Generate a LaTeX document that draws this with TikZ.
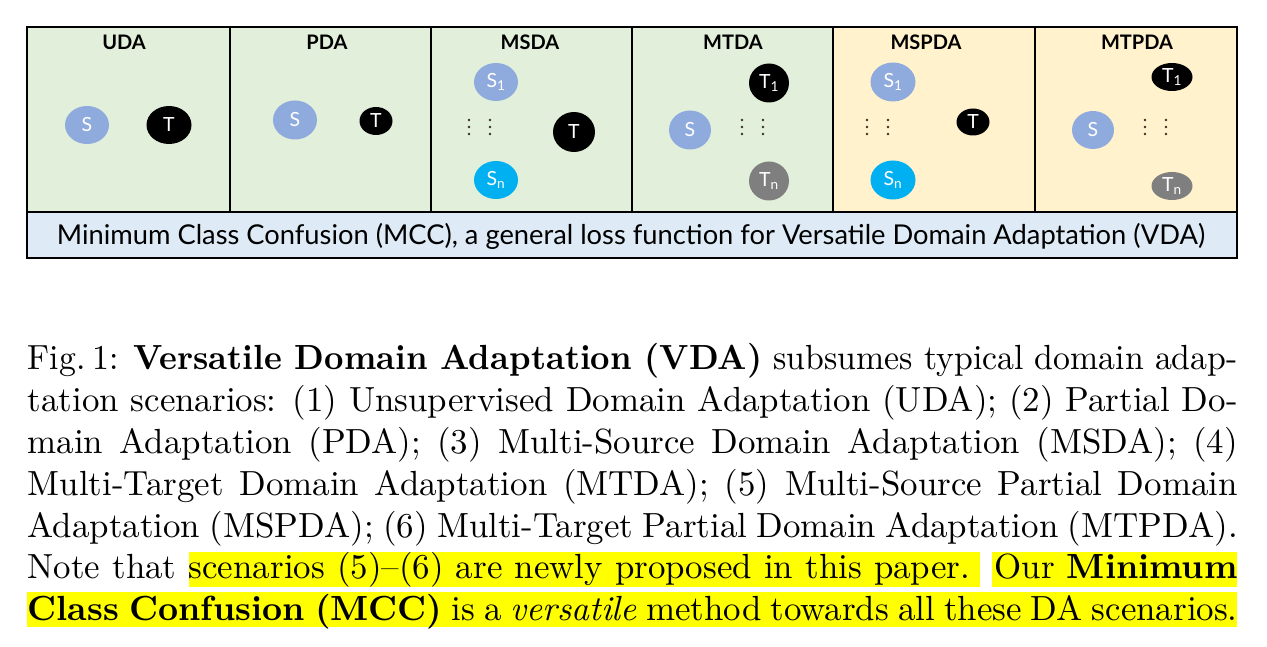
\documentclass[tikz,border=0pt]{standalone}
\usepackage{fontspec}
\setsansfont{Lato}
\usepackage{graphicx}
\usetikzlibrary{shapes.geometric}
\definecolor{pgreen}{HTML}{E2EFDA}
\definecolor{pyellow}{HTML}{FFF2CC}
\definecolor{barblue}{HTML}{DEEBF7}
\definecolor{sblue}{HTML}{8FAADC}
\definecolor{scyan}{HTML}{00B0F0}
\definecolor{tgray}{HTML}{7F7F7F}
\definecolor{hlyellow}{HTML}{FFFF00}
\definecolor{dotcol}{HTML}{3A2E1E}
\newlength{\capw}
\setlength{\capw}{346.7pt}
\newcommand{\capline}[1]{\makebox[\capw][s]{#1}}
\tikzset{
  panel/.style={draw=black, line width=1.6pt, inner sep=0pt, minimum height=185pt},
  ptitle/.style={font=\sffamily\bfseries\fontsize{20}{22}\selectfont, anchor=base, inner sep=0pt},
  dom/.style={ellipse, inner sep=0pt, text=white, font=\sffamily\fontsize{19.5}{20}\selectfont},
  vdot/.style={circle, fill=dotcol, inner sep=0pt, minimum size=2.6pt},
  hl/.style={fill=hlyellow, draw=none},
  capl/.style={anchor=base west, inner sep=0pt, scale=3.49, font=\fontsize{10}{12}\selectfont}
}
\newcommand{\dotcols}[2]{%
  \foreach \dx in {0,21} {\foreach \dy in {-7,0,7} {\node[vdot] at (#1+\dx,#2+\dy) {};}}}
\begin{document}
\begin{tikzpicture}[x=1pt,y=-1pt]
\useasboundingbox (0,0) rectangle (1267,647);
% panels
\node[panel, fill=pgreen, minimum width=203pt] (p1) at (128.5,119.5) {};
\node[panel, fill=pgreen, minimum width=201pt] (p2) at (330.5,119.5) {};
\node[panel, fill=pgreen, minimum width=201pt] (p3) at (531.5,119.5) {};
\node[panel, fill=pgreen, minimum width=201pt] (p4) at (732.5,119.5) {};
\node[panel, fill=pyellow, minimum width=202pt] (p5) at (934,119.5) {};
\node[panel, fill=pyellow, minimum width=202pt] (p6) at (1136,119.5) {};
\node[draw=black, line width=1.6pt, fill=barblue, inner sep=0pt, minimum width=1210pt, minimum height=46pt] (bar) at (632,235) {};
\node[inner sep=0pt, font=\sffamily] (bartext) at (631,236) {\resizebox{1148pt}{!}{Minimum Class Confusion (MCC), a general loss function for Versatile Domain Adaptation (VDA)}};
% titles
\node[ptitle] (t1) at (124,50) {UDA};
\node[ptitle] (t2) at (327,50) {PDA};
\node[ptitle] (t3) at (530,50) {MSDA};
\node[ptitle] (t4) at (733,50) {MTDA};
\node[ptitle] (t5) at (926,50) {MSPDA};
\node[ptitle] (t6) at (1137,50) {MTPDA};
% UDA
\node[dom, fill=sblue, minimum width=44pt, minimum height=38pt] (uda-s) at (87,125) {S};
\node[dom, fill=black, minimum width=45pt, minimum height=38pt] (uda-t) at (169,125) {T};
% PDA
\node[dom, fill=sblue, minimum width=44pt, minimum height=39pt] (pda-s) at (295,120) {S};
\node[dom, fill=black, minimum width=33pt, minimum height=28pt] (pda-t) at (376,121) {T};
% MSDA
\node[dom, fill=sblue, minimum width=44pt, minimum height=38pt] (msda-s1) at (496,82) {S\textsubscript{1}};
\node[dom, fill=scyan, minimum width=44pt, minimum height=38pt] (msda-sn) at (496,180) {S\textsubscript{n}};
\node[dom, fill=black, minimum width=42pt, minimum height=40pt] (msda-t) at (574,132) {T};
\dotcols{469}{127}
% MTDA
\node[dom, fill=sblue, minimum width=42pt, minimum height=39pt] (mtda-s) at (690,130) {S};
\node[dom, fill=black, minimum width=40pt, minimum height=39pt] (mtda-t1) at (769,83) {T\textsubscript{1}};
\node[dom, fill=tgray, minimum width=40pt, minimum height=39pt] (mtda-tn) at (769,181) {T\textsubscript{n}};
\dotcols{742}{127}
% MSPDA
\node[dom, fill=sblue, minimum width=45pt, minimum height=39pt] (mspda-s1) at (893,82) {S\textsubscript{1}};
\node[dom, fill=scyan, minimum width=45pt, minimum height=39pt] (mspda-sn) at (893,180) {S\textsubscript{n}};
\node[dom, fill=black, minimum width=33pt, minimum height=27pt] (mspda-t) at (973,122) {T};
\dotcols{867}{127}
% MTPDA
\node[dom, fill=sblue, minimum width=42pt, minimum height=38pt] (mtpda-s) at (1093,130) {S};
\node[dom, fill=black, minimum width=41pt, minimum height=28pt] (mtpda-t1) at (1172,77) {T\textsubscript{1}};
\node[dom, fill=tgray, minimum width=41pt, minimum height=28pt] (mtpda-tn) at (1172,186) {T\textsubscript{n}};
\dotcols{1145}{127}
% highlights
\fill[hl] (189,552) rectangle (980,587);
\fill[hl] (992,552) rectangle (1237,587);
\fill[hl] (27,592) rectangle (1237,627);
% caption
\node[capl] (c1) at (27,369.5) {\resizebox{\capw}{\height}{Fig.\hspace{2pt}1: \textbf{Versatile Domain Adaptation (VDA)} subsumes typical domain adap-}};
\node[capl] (c2) at (27,411.4) {\capline{tation scenarios: (1) Unsupervised Domain Adaptation (UDA); (2) Partial Do-}};
\node[capl] (c3) at (27,453.3) {\capline{main Adaptation (PDA); (3) Multi-Source Domain Adaptation (MSDA); (4)}};
\node[capl] (c4) at (27,495.2) {\capline{Multi-Target Domain Adaptation (MTDA); (5) Multi-Source Partial Domain}};
\node[capl] (c5) at (27,537.1) {\capline{Adaptation (MSPDA); (6) Multi-Target Partial Domain Adaptation (MTPDA).}};
\node[capl] (c6) at (27,578.5) {\capline{Note that scenarios (5)--(6) are newly proposed in this paper.\ \ Our \textbf{Minimum}}};
\node[capl] (c7) at (27,620) {\capline{\textbf{Class Confusion (MCC)} is a \emph{versatile} method towards all these DA scenarios.}};
\end{tikzpicture}
\end{document}
